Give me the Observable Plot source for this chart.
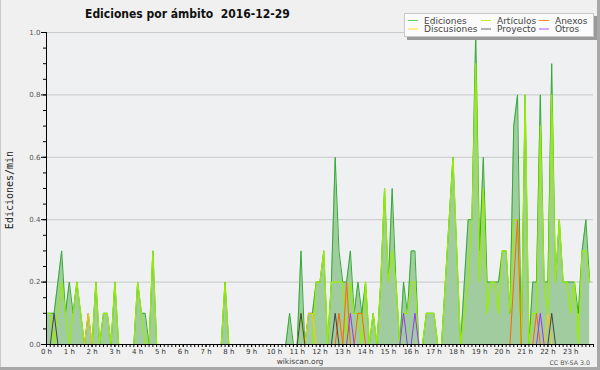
<!DOCTYPE html>
<html><head><meta charset="utf-8">
<script src="https://cdn.jsdelivr.net/npm/d3@7"></script>
<script src="https://cdn.jsdelivr.net/npm/@observablehq/plot@0.6"></script>
<style>
html,body{margin:0;padding:0;background:#f0f0f0;}
#chart{width:600px;height:370px;}
svg text{font-family:"DejaVu Sans",sans-serif;}
</style></head><body><div id="chart"></div>
<script>
// 10-minute bins, 6 per hour (one row per hour), values in edits/min
const ediciones = [
  .1,.1,.1,.2,.3,.1,  .2,.1,.2,.1,0,.1,  0,.2,0,.1,.1,0,  .2,0,0,0,0,0,
  .2,.1,.1,0,.3,0,  0,0,0,0,0,0,  0,0,0,0,0,0,  0,0,0,0,0,.2,
  0,0,0,0,0,0,  0,0,0,0,0,0,  0,0,0,0,.1,0,  0,.3,0,.1,.1,.2,
  .2,.3,0,.2,.6,.3,  .2,.2,.3,.1,.2,.1,  .2,0,.1,0,.2,.5,  .2,.5,.2,0,.2,.1,
  .3,.3,0,0,.1,.1,  .1,0,0,.2,.4,.6,  .3,0,.2,.4,.4,1.0,  .3,.6,.2,.2,.2,.2,
  .3,.3,.1,.7,.8,0,  .8,0,.2,.2,.8,.2,  .2,.9,.2,.4,.2,.2,  .2,.2,.1,.3,.4,.2
];
const articulos = [
  .1,.1,0,.1,.2,.1,  0,.1,.2,.1,0,0,  0,.2,0,.1,.1,0,  .2,0,0,0,0,0,
  .2,.1,0,0,.3,0,  0,0,0,0,0,0,  0,0,0,0,0,0,  0,0,0,0,0,.2,
  0,0,0,0,0,0,  0,0,0,0,0,0,  0,0,0,0,0,0,  0,.1,0,0,0,.2,
  .2,.3,0,.2,.2,.2,  .2,0,.2,.1,.1,0,  .2,0,.1,0,.2,.5,  .2,.3,.2,0,.1,.1,
  .2,.2,0,0,.1,.1,  .1,0,0,.2,.4,.6,  .3,0,.1,.2,.4,.9,  .2,.5,.1,.2,.2,.1,
  .3,.3,.1,.4,.4,0,  .8,0,.1,.1,.7,.2,  .1,.8,.2,.4,.2,.2,  .1,.2,0,.3,.3,.2
];
const anexos = [
  0,0,0,0,0,0,  0,0,0,0,0,0,  0,0,0,0,0,0,  0,0,0,0,0,0,
  0,0,0,0,0,0,  0,0,0,0,0,0,  0,0,0,0,0,0,  0,0,0,0,0,0,
  0,0,0,0,0,0,  0,0,0,0,0,0,  0,0,0,0,0,0,  0,0,0,0,0,0,
  0,0,0,0,0,.1,  0,.2,0,0,.1,.1,  0,0,0,0,0,0,  0,0,0,0,0,0,
  0,0,0,0,0,0,  0,0,0,0,0,0,  0,0,0,0,0,0,  0,0,0,0,0,0,
  0,0,0,.2,.4,0,  0,0,0,.1,0,0,  0,0,0,0,0,0,  0,0,0,0,0,0
];
const discusiones = [
  0,0,0,0,0,0,  0,0,0,0,0,.1,  0,0,0,0,0,0,  0,0,0,0,0,0,
  0,0,0,0,0,0,  0,0,0,0,0,0,  0,0,0,0,0,0,  0,0,0,0,0,0,
  0,0,0,0,0,0,  0,0,0,0,0,0,  0,0,0,0,0,0,  0,0,0,.1,.1,0,
  0,0,0,0,0,0,  0,0,0,0,0,0,  0,0,0,0,0,0,  0,0,0,0,0,0,
  0,0,0,0,0,0,  0,0,0,0,0,0,  0,0,0,0,0,0,  0,0,0,0,0,0,
  0,0,0,0,0,0,  0,0,0,0,0,0,  .1,0,0,0,0,0,  0,0,0,0,0,0
];
const proyecto = [
  0,0,.1,0,0,0,  0,0,0,0,0,0,  0,0,0,0,0,0,  0,0,0,0,0,0,
  0,0,0,0,0,0,  0,0,0,0,0,0,  0,0,0,0,0,0,  0,0,0,0,0,0,
  0,0,0,0,0,0,  0,0,0,0,0,0,  0,0,0,0,0,0,  0,.1,0,0,0,0,
  0,0,0,0,.1,0,  0,0,0,0,0,0,  0,0,0,0,0,0,  0,0,0,0,0,0,
  0,0,0,0,0,0,  0,0,0,0,0,0,  0,0,0,0,0,0,  0,0,0,0,0,0,
  0,0,0,0,0,0,  0,0,0,0,0,0,  0,.1,0,0,0,0,  0,0,0,0,0,0
];
const otros = [
  0,0,0,0,0,0,  0,0,0,0,0,0,  0,0,0,0,0,0,  0,0,0,0,0,0,
  0,0,0,0,0,0,  0,0,0,0,0,0,  0,0,0,0,0,0,  0,0,0,0,0,0,
  0,0,0,0,0,0,  0,0,0,0,0,0,  0,0,0,0,0,0,  0,0,0,0,0,0,
  0,0,0,0,0,0,  0,0,.1,0,0,0,  0,0,0,0,0,0,  0,0,0,0,.1,0,
  0,.1,0,0,0,0,  0,0,0,0,0,0,  0,0,0,0,0,0,  0,0,0,0,0,0,
  0,0,0,0,0,0,  0,0,0,0,.1,0,  0,0,0,0,0,0,  0,0,0,0,0,0
];
const hourTicks = [0,1,2,3,4,5,6,7,8,9,10,11,12,13,14,15,16,17,18,19,20,21,22,23];
const yTicks = [0,0.2,0.4,0.6,0.8,1.0];
const yGrid = [0.2,0.4,0.6,0.8,1.0];
const yMinor = d3.range(0, 1.0001, 0.05);
const xMinor = d3.range(0, 24.001, 1/6);

const seriesNames = ["Ediciones","Artículos","Anexos","Discusiones","Proyecto","Otros"];
const seriesColors = ["#33aa33","#99ee00","#ff6600","#ffcc00","#444444","#9933ff"];
const legendColors = ["#66cc66","#bbee33","#ff8844","#ffdd33","#666666","#aa55ff"];

const rows = ediciones.map((v, k) => ({
  t: k / 6, ed: v, art: articulos[k], anx: anexos[k],
  dis: discusiones[k], pro: proyecto[k], otr: otros[k]
}));

const chart = Plot.plot({
  width: 600, height: 370,
  marginLeft: 46, marginRight: 7, marginTop: 32, marginBottom: 26,
  style: {background: "#f0f0f0", overflow: "visible"},
  x: {domain: [0, 24], axis: null},
  y: {domain: [0, 1], axis: null},
  marks: [
    Plot.frame({fill: "#eef0f2", stroke: null}),
    Plot.ruleY(yGrid, {stroke: "#c8c8c8"}),
    Plot.areaY(rows, {x: "t", y: "ed", fill: "#a0cca0"}),
    Plot.lineY(rows, {x: "t", y: "ed", stroke: seriesColors[0], strokeWidth: 1}),
    Plot.lineY(rows, {x: "t", y: "art", stroke: seriesColors[1], strokeWidth: 1.2}),
    Plot.lineY(rows, {x: "t", y: "anx", stroke: seriesColors[2], strokeWidth: 1}),
    Plot.lineY(rows, {x: "t", y: "dis", stroke: seriesColors[3], strokeWidth: 1}),
    Plot.lineY(rows, {x: "t", y: "pro", stroke: seriesColors[4], strokeWidth: 1}),
    Plot.lineY(rows, {x: "t", y: "otr", stroke: seriesColors[5], strokeWidth: 1}),
    Plot.ruleX([0], {stroke: "#000"}),
    Plot.ruleY([0], {stroke: "#000"}),
    Plot.axisY({ticks: yMinor, tickSize: 3, tickFormat: () => "", label: null, stroke: "#000"}),
    Plot.axisY({ticks: yTicks, tickSize: 5, tickPadding: 1, tickFormat: d3.format(".1f"), label: null, fontSize: 7, stroke: "#000", fill: "#555"}),
    Plot.axisX({ticks: xMinor, tickSize: 3, tickFormat: () => "", label: null, stroke: "#000"}),
    Plot.axisX({ticks: hourTicks, tickSize: 3, tickPadding: 2, tickFormat: h => `${h} h`, label: null, fontSize: 7, stroke: "#000", fill: "#333"})
  ]
});
document.getElementById("chart").appendChild(chart);

const svg = d3.select(chart);
// frame edges
svg.append("rect").attr("x", 0).attr("y", 0).attr("width", 1).attr("height", 368).attr("fill", "#c8c8c8");
svg.append("rect").attr("x", 597).attr("y", 0).attr("width", 3).attr("height", 370).attr("fill", "#a8a8a8");
svg.append("rect").attr("x", 0).attr("y", 367).attr("width", 600).attr("height", 3).attr("fill", "#a8a8a8");

// title
svg.append("text").attr("x", 85).attr("y", 18).attr("text-anchor", "start")
  .style("font-family", "'DejaVu Sans Condensed','DejaVu Sans',sans-serif")
  .style("font-stretch", "condensed")
  .style("font-weight", "bold").style("font-size", "12px").style("white-space", "pre")
  .attr("fill", "#111").text("Ediciones por ámbito  2016-12-29");

// y label
svg.append("text").attr("transform", "translate(13,190) rotate(-90)")
  .attr("text-anchor", "middle")
  .style("font-family", "'DejaVu Sans Mono',monospace").style("font-size", "10px")
  .attr("fill", "#222").text("Ediciones/min");

// legend
const lg = svg.append("g").attr("text-anchor", "start");
lg.append("rect").attr("x", 407).attr("y", 16).attr("width", 190).attr("height", 24).attr("fill", "#9a9a9a");
lg.append("rect").attr("x", 404.5).attr("y", 13.5).attr("width", 189).attr("height", 23).attr("fill", "#fbfbfb").attr("stroke", "#c8c8c8");
const colX = [408, 481, 539];
const rowY = [20.5, 29];
seriesNames.forEach((name, i) => {
  const cx = colX[i % 3], cy = rowY[Math.floor(i / 3)];
  lg.append("line").attr("x1", cx).attr("x2", cx + 10).attr("y1", cy).attr("y2", cy)
    .attr("stroke", legendColors[i]).attr("stroke-width", 1);
  lg.append("text").attr("x", cx + 16).attr("y", cy + 3.2).attr("text-anchor", "start")
    .style("font-size", "9px").attr("fill", "#444").text(name);
});

// footer
svg.append("text").attr("x", 300).attr("y", 364).attr("text-anchor", "middle")
  .style("font-size", "7.5px").attr("fill", "#444").text("wikiscan.org");
svg.append("text").attr("x", 590).attr("y", 365).attr("text-anchor", "end")
  .style("font-size", "6.3px").attr("fill", "#555").text("CC BY-SA 3.0");
</script></body></html>
